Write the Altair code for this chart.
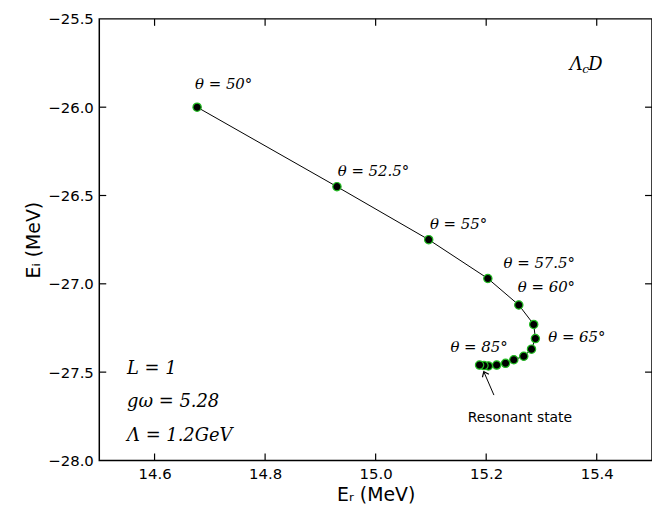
import pandas as pd
import altair as alt

er = [14.677, 14.930, 15.096, 15.203, 15.259, 15.286, 15.289, 15.282, 15.268,
      15.250, 15.235, 15.219, 15.204, 15.196, 15.188]
ei = [-26.0, -26.45, -26.75, -26.97, -27.12, -27.23, -27.31, -27.37, -27.41,
      -27.43, -27.45, -27.46, -27.465, -27.463, -27.46]

lab_text = ["θ = 50°", "θ = 52.5°", "θ = 55°", "θ = 57.5°", "θ = 60°", "θ = 65°", "θ = 85°"]
lab_x = [14.725, 14.996, 15.15, 15.296, 15.309, 15.364, 15.187]
lab_y = [-25.87, -26.36, -26.66, -26.88, -27.02, -27.30, -27.36]

note_text = ["L = 1", "gω = 5.28", "Λ = 1.2GeV"]
note_y = [-27.48, -27.67, -27.86]

x_ticks = [14.6, 14.8, 15.0, 15.2, 15.4]
y_ticks = [-28.0, -27.5, -27.0, -26.5, -26.0, -25.5]

W, H = 557, 445
xs = alt.Scale(domain=[14.5, 15.5], nice=False)
ys = alt.Scale(domain=[-28.0, -25.5], nice=False)

pts = pd.DataFrame({"Er": er, "Ei": ei, "i": range(len(er))})
base = alt.Chart(pts)
line = base.mark_line(color="black", strokeWidth=1).encode(
    x=alt.X("Er:Q", scale=xs, title="Eᵣ (MeV)",
            axis=alt.Axis(values=x_ticks, format=".1f", grid=False, ticks=False,
                          labelPadding=6, labelFontSize=15, titleFontSize=19,
                          titleFont="DejaVu Sans", titleFontWeight="normal", domain=False)),
    y=alt.Y("Ei:Q", scale=ys, title="Eᵢ (MeV)",
            axis=alt.Axis(values=y_ticks, format=".1f", grid=False, ticks=False,
                          labelPadding=6, labelFontSize=15, titleFontSize=19,
                          titleFont="DejaVu Sans", titleFontWeight="normal", domain=False)),
    order="i:O",
)
dots = base.mark_circle(size=70, color="black", opacity=1, stroke="#22bb22",
                        strokeWidth=1.2).encode(x=alt.X("Er:Q", scale=xs), y=alt.Y("Ei:Q", scale=ys))

labs = alt.Chart(pd.DataFrame({"t": lab_text, "x": lab_x, "y": lab_y})).mark_text(
    font="DejaVu Serif", fontStyle="italic", fontSize=15, color="black").encode(
    x=alt.X("x:Q", scale=xs), y=alt.Y("y:Q", scale=ys), text="t:N")

notes = alt.Chart(pd.DataFrame({"t": note_text, "y": note_y})).mark_text(
    font="DejaVu Serif", fontStyle="italic", fontSize=18, align="left", color="black").encode(
    x=alt.value(28), y=alt.Y("y:Q", scale=ys), text="t:N")

title_lab = alt.Chart(pd.DataFrame({"t": ["Λ   D"], "x": [15.381], "y": [-25.76]})).mark_text(
    font="DejaVu Serif", fontStyle="italic", fontSize=18, color="black").encode(
    x=alt.X("x:Q", scale=xs), y=alt.Y("y:Q", scale=ys), text="t:N")
title_sub = alt.Chart(pd.DataFrame({"t": ["c"], "x": [15.380], "y": [-25.785]})).mark_text(
    font="DejaVu Serif", fontStyle="italic", fontSize=12, color="black").encode(
    x=alt.X("x:Q", scale=xs), y=alt.Y("y:Q", scale=ys), text="t:N")

res = alt.Chart(pd.DataFrame({"t": ["Resonant state"], "x": [15.261], "y": [-27.76]})).mark_text(
    font="DejaVu Sans", fontSize=14, color="black").encode(
    x=alt.X("x:Q", scale=xs), y=alt.Y("y:Q", scale=ys), text="t:N")

arr_x = [15.214, 15.196]
arr_y = [-27.63, -27.50]
arr = pd.DataFrame({"x": arr_x, "y": arr_y})
arrow = alt.Chart(arr).mark_line(color="black", strokeWidth=1).encode(
    x=alt.X("x:Q", scale=xs), y=alt.Y("y:Q", scale=ys))
head = alt.Chart(arr.tail(1)).mark_point(shape="M-0.8,0.9L0,-0.1L0.8,0.9", size=80, filled=False,
                                         color="black", strokeWidth=1.2, angle=335, opacity=1).encode(
    x=alt.X("x:Q", scale=xs), y=alt.Y("y:Q", scale=ys))

xt = alt.Chart(pd.DataFrame({"v": x_ticks}))
xb = xt.mark_rule(color="black", strokeWidth=1.2).encode(
    x=alt.X("v:Q", scale=xs), y=alt.value(H), y2=alt.value(H - 7))
xtop = xt.mark_rule(color="black", strokeWidth=1.2).encode(
    x=alt.X("v:Q", scale=xs), y=alt.value(0), y2=alt.value(7))
yt = alt.Chart(pd.DataFrame({"v": y_ticks[1:-1]}))
yl = yt.mark_rule(color="black", strokeWidth=1.2).encode(
    y=alt.Y("v:Q", scale=ys), x=alt.value(0), x2=alt.value(7))
yr = yt.mark_rule(color="black", strokeWidth=1.2).encode(
    y=alt.Y("v:Q", scale=ys), x=alt.value(W), x2=alt.value(W - 7))

chart = alt.layer(line, dots, labs, notes, title_lab, title_sub, res, arrow, head,
                  xb, xtop, yl, yr).properties(
    width=W, height=H, autosize=alt.AutoSizeParams(type="none"),
    padding={"left": 92, "top": 9, "right": 0, "bottom": 50},
).configure_view(stroke="black", strokeWidth=1.5).configure_axis(
    labelFont="DejaVu Sans", labelColor="black", titleColor="black")

chart.save("out.html", embed_options={"renderer": "svg", "actions": False})
